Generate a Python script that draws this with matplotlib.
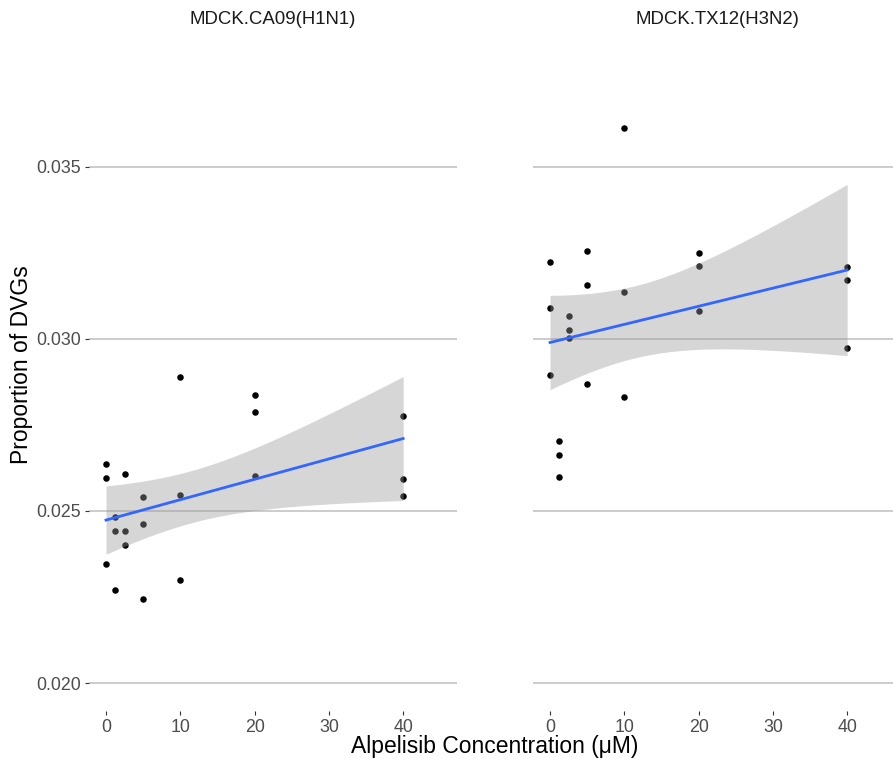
import matplotlib
matplotlib.use("Agg")
import matplotlib.pyplot as plt
import numpy as np

plt.rcParams["font.family"] = ["Liberation Sans", "DejaVu Sans"]

# concentrations (uM), three replicates each
conc = [0, 0, 0, 1.25, 1.25, 1.25, 2.5, 2.5, 2.5, 5, 5, 5,
        10, 10, 10, 20, 20, 20, 40, 40, 40]

ca09 = [0.02636, 0.02595, 0.02346, 0.02481, 0.02443, 0.02269,
        0.02608, 0.02441, 0.02400, 0.02539, 0.02463, 0.02245,
        0.02888, 0.02547, 0.02299, 0.02837, 0.02788, 0.02600,
        0.02777, 0.02594, 0.02542]

tx12 = [0.03223, 0.03088, 0.02895, 0.02704, 0.02661, 0.02598,
        0.03066, 0.03024, 0.03003, 0.03255, 0.03155, 0.02869,
        0.03612, 0.03135, 0.02831, 0.03248, 0.03212, 0.03081,
        0.03209, 0.03171, 0.02974]

panels = ["MDCK.CA09(H1N1)", "MDCK.TX12(H3N2)"]
yticks = [0.020, 0.025, 0.030, 0.035]
xticks = [0, 10, 20, 30, 40]
T975 = 2.093024  # t quantile, df = 19


def lm_fit(x, y):
    x = np.asarray(x, float)
    y = np.asarray(y, float)
    n = len(x)
    b, a = np.polyfit(x, y, 1)
    resid = y - (a + b * x)
    s = np.sqrt(np.sum(resid ** 2) / (n - 2))
    xs = np.linspace(x.min(), x.max(), 80)
    fit = a + b * xs
    se = s * np.sqrt(1 / n + (xs - x.mean()) ** 2 / np.sum((x - x.mean()) ** 2))
    return xs, fit, fit - T975 * se, fit + T975 * se


fig = plt.figure(figsize=(8.93, 7.59), dpi=100)
W, H = 893, 759
y_lo, y_hi = 0.019194, 0.038735
bottom = 1 - 710.8 / H
height = (710.8 - 38) / H
lefts = [89.3, 533.3]
width = 367.7

for i, (name, vals) in enumerate(zip(panels, [ca09, tx12])):
    ax = fig.add_axes([lefts[i] / W, bottom, width / W, height])
    ax.scatter(conc, vals, s=22, color="black", zorder=2, linewidths=0)
    xs, fit, lo, hi = lm_fit(conc, vals)
    ax.fill_between(xs, lo, hi, color="#999999", alpha=0.4, lw=0, zorder=3)
    ax.plot(xs, fit, color="#3366FF", lw=2, zorder=4)
    ax.set_xlim(-2.25, 47.25)
    ax.set_ylim(y_lo, y_hi)
    ax.set_xticks(xticks)
    ax.set_yticks(yticks)
    ax.yaxis.grid(True, color="#c8c8c8", lw=1.3, zorder=1)
    ax.set_axisbelow(True)
    for sp in ax.spines.values():
        sp.set_visible(False)
    ax.tick_params(axis="both", colors="#333333", length=3, width=0.8,
                   labelsize=12.8, labelcolor="#4d4d4d", pad=3)
    if i == 0:
        ax.set_yticklabels(["0.020", "0.025", "0.030", "0.035"])
    else:
        ax.tick_params(axis="y", left=False, labelleft=False)
    fig.text((lefts[i] + width / 2) / W, 1 - 20 / H, name, ha="center",
             va="center", fontsize=13.4, color="#1a1a1a")

fig.text(495 / W, 1 - 746 / H, "Alpelisib Concentration (\u03bcM)",
         ha="center", va="center", fontsize=16.5)
fig.text(22 / W, 1 - 365 / H, "Proportion of DVGs", rotation=90,
         ha="center", va="center", fontsize=16.5)

fig.savefig("out.png", dpi=100)
